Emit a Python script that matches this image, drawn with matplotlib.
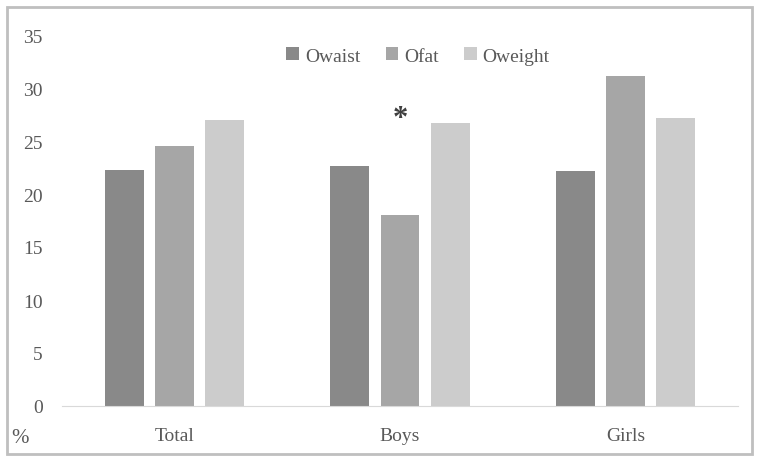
import numpy as np
import matplotlib.pyplot as plt
from matplotlib.patches import Rectangle

categories = ['Total', 'Boys', 'Girls']
series_names = ['Owaist', 'Ofat', 'Oweight']
owaist = [22.3, 22.6, 22.2]
ofat = [24.5, 18.0, 31.1]
oweight = [27.0, 26.7, 27.2]
colors = ['#898989', '#a6a6a6', '#cccccc']

plt.rcParams['font.family'] = ['Liberation Serif', 'DejaVu Serif']
text_color = '#595959'

fig = plt.figure(figsize=(7.58, 4.64), dpi=100)
ax = fig.add_axes([62 / 758, 57 / 464, 676 / 758, 371 / 464])

x = np.arange(len(categories))
width = 0.173
step = 0.222
for i, (vals, name) in enumerate(zip([owaist, ofat, oweight], series_names)):
    ax.bar(x + (i - 1) * step, vals, width, color=colors[i], label=name)

# significance mark above boys' Ofat bar
ax.text(x[1], 27.1, '*', ha='center', va='center', fontsize=22,
        fontweight='bold', color='#404040')

ax.set_xlim(-0.5, 2.5)
ax.set_ylim(0, 35)
ax.set_yticks(range(0, 36, 5))
ax.set_xticks(x)
ax.set_xticklabels(categories)
ax.tick_params(axis='both', length=0, labelsize=14, colors=text_color)
ax.tick_params(axis='x', pad=15)
ax.tick_params(axis='y', pad=14)
for side in ['top', 'right', 'left']:
    ax.spines[side].set_visible(False)
ax.spines['bottom'].set_color('#d9d9d9')

fig.text(20 / 758, 1 - 439 / 464, '%', ha='center', va='center',
         fontsize=15, color=text_color)

leg = fig.legend(loc='center', bbox_to_anchor=(418 / 758, 1 - 57 / 464), ncol=3,
                 frameon=False, fontsize=14, handlelength=0.65, handleheight=0.65,
                 handletextpad=0.3, columnspacing=1.3)
for t in leg.get_texts():
    t.set_color(text_color)

# outer frame
fig.patches.append(Rectangle((7 / 758, 1 - 455 / 464), 745 / 758, 447 / 464,
                             transform=fig.transFigure, fill=False,
                             edgecolor='#bfbfbf', linewidth=2))

fig.savefig('out.png', dpi=100)
